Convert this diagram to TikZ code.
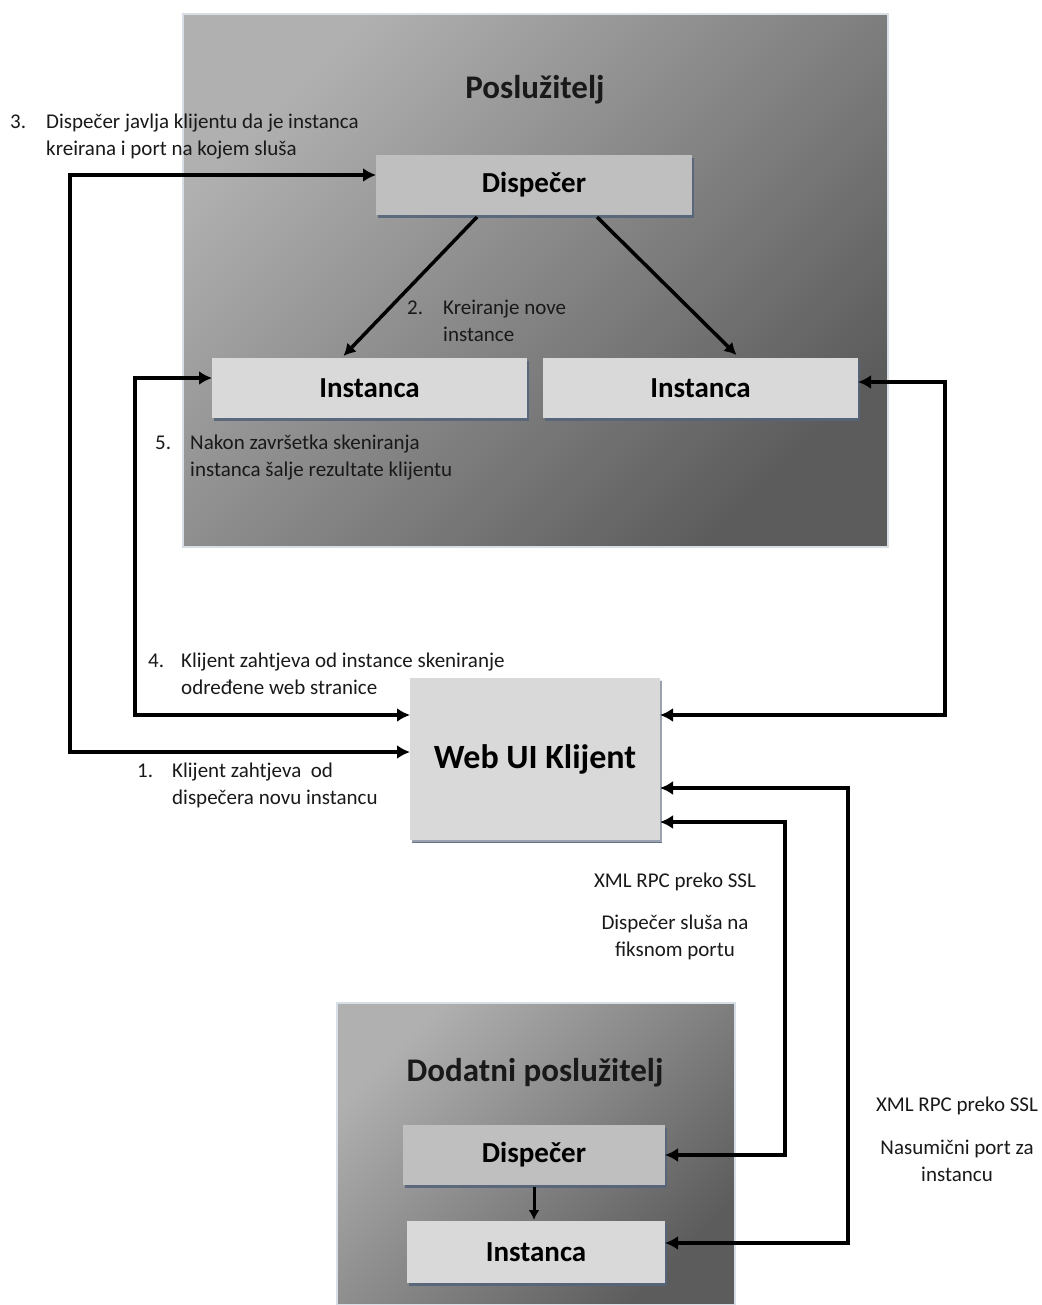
\documentclass[tikz,border=0pt]{standalone}
\usepackage{fontspec}
\setmainfont{Carlito}
\usetikzlibrary{arrows.meta,shadows}
\definecolor{srvlight}{HTML}{B0B0B0}
\definecolor{srvdark}{HTML}{5C5C5C}
\definecolor{srvframe}{HTML}{D8DEE6}
\definecolor{boxdark}{HTML}{BFBFBF}
\definecolor{boxlight}{HTML}{D9D9D9}
\definecolor{shadowblue}{HTML}{56657A}

\begin{document}
\begin{tikzpicture}[x=1pt,y=-1pt,
    server/.style={draw=srvframe,line width=2pt,top color=srvlight,bottom color=srvdark,shading angle=45,inner sep=0pt,outer sep=0pt},
    title/.style={font=\bfseries\fontsize{33}{38}\selectfont,text=black!90},
    darkbox/.style={fill=boxdark,inner sep=0pt,outer sep=0pt,font=\bfseries\fontsize{29}{34}\selectfont,
      drop shadow={shadow xshift=2pt,shadow yshift=-3pt,fill=shadowblue,opacity=.9}},
    lightbox/.style={darkbox,fill=boxlight},
    note/.style={anchor=north west,align=left,inner sep=0pt,font=\fontsize{21}{27}\selectfont,text=black!90},
    remark/.style={note,anchor=north,align=center},
    link/.style={line width=4pt,{Latex[length=13pt,width=14pt]}-{Latex[length=13pt,width=14pt]}}]
  \useasboundingbox (0,0) rectangle (1041,1305);

  \node (srv) at (535.5,280.5) [server,minimum width=705,minimum height=533] {};
  \node (srvt) at (535,90) [title] {Poslužitelj};
  \node (disp) at (534,185) [darkbox,minimum width=316,minimum height=60] {Dispečer};
  \node (instL) at (369.5,388) [lightbox,minimum width=315,minimum height=60] {Instanca};
  \node (instR) at (700.5,388) [lightbox,minimum width=315,minimum height=60] {Instanca};

  \node (web) at (535,759) [lightbox,minimum width=250,minimum height=162,font=\bfseries\fontsize{34}{40}\selectfont,
    drop shadow={shadow xshift=1.5pt,shadow yshift=-1.5pt,fill=shadowblue!30}] {Web UI Klijent};

  \node (srv2) at (536,1154) [server,minimum width=398,minimum height=302] {};
  \node (srv2t) at (535,1073) [title] {Dodatni poslužitelj};
  \node (disp2) at (534,1155) [darkbox,minimum width=262,minimum height=60] {Dispečer};
  \node (inst2) at (536,1252) [lightbox,minimum width=258,minimum height=62] {Instanca};

  \node (n3) at (10,114) [note] {\vphantom{Kl}3.};
  \node (t3) at (46,114) [note] {Dispečer javlja klijentu da je instanca\\kreirana i port na kojem sluša};
  \node (n2) at (407,300) [note] {\vphantom{Kl}2.};
  \node (t2) at (443,300) [note] {Kreiranje nove\\instance};
  \node (n5) at (155,435) [note] {\vphantom{Kl}5.};
  \node (t5) at (190,435) [note] {Nakon završetka skeniranja\\instanca šalje rezultate klijentu};
  \node (n4) at (148,653) [note] {\vphantom{Kl}4.};
  \node (t4) at (181,653) [note] {Klijent zahtjeva od instance skeniranje\\određene web stranice};
  \node (n1) at (137,763) [note] {\vphantom{Kl}1.};
  \node (t1) at (172,763) [note] {Klijent zahtjeva \ od\\dispečera novu instancu};
  \node (r1) at (675,873) [remark] {XML RPC preko SSL};
  \node (r2) at (675,915) [remark] {Dispečer sluša na\\fiksnom portu};
  \node (r3) at (957,1097) [remark] {XML RPC preko SSL};
  \node (r4) at (957,1140) [remark] {Nasumični port za\\instancu};

  \coordinate (x3) at (70,460);
  \coordinate (x4) at (135,550);
  \coordinate (x5) at (945,550);
  \coordinate (x6) at (848,1000);
  \coordinate (x7) at (785,1000);

  \draw[link] ([yshift=7pt]web.west) -| (x3) |- ([yshift=10pt]disp.west);
  \draw[link] ([yshift=44pt]web.west) -| (x4) |- ([yshift=10pt]instL.west);
  \draw[link] ([yshift=44pt]web.east) -| (x5) |- ([yshift=6pt]instR.east);
  \draw[link] ([yshift=-29pt]web.east) -| (x6) |- ([yshift=9pt]inst2.east);
  \draw[link] ([yshift=-63pt]web.east) -| (x7) |- (disp2.east);

  \draw[line width=3.5pt,-{Latex[length=12pt,width=13pt]}] ([xshift=-57pt,yshift=-2pt]disp.south) -- ([xshift=-26pt,yshift=2pt]instL.north);
  \draw[line width=3.5pt,-{Latex[length=12pt,width=13pt]}] ([xshift=63pt,yshift=-2pt]disp.south) -- ([xshift=36pt,yshift=3pt]instR.north);
  \draw[line width=3pt,-{Latex[length=10pt,width=11pt]}] ([yshift=-2pt]disp2.south) -- ([yshift=1pt]disp2.south |- inst2.north);
\end{tikzpicture}
\end{document}
